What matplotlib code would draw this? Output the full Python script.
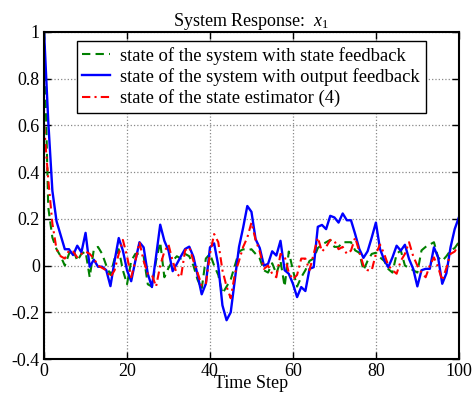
import matplotlib
matplotlib.use("Agg")
import matplotlib.pyplot as plt
import numpy as np

plt.rcParams['font.family'] = ['Liberation Serif', 'DejaVu Serif']
plt.rcParams['mathtext.fontset'] = 'custom'
plt.rcParams['mathtext.rm'] = 'Liberation Serif'
plt.rcParams['mathtext.it'] = 'Liberation Serif:italic'

steps = np.arange(0, 101)

# state of the system with state feedback
x_state_fb = [1.0, 0.25, 0.12, 0.07, 0.04, 0.0, 0.05, 0.07, 0.02, 0.05,
              0.06, -0.05, 0.07, 0.08, 0.05, 0.0, -0.04, 0.03, 0.07, -0.02,
              -0.08, 0.02, 0.05, 0.05, 0.04, -0.08, -0.09, 0.02, 0.1, -0.05,
              -0.01, 0.02, 0.04, 0.03, 0.05, 0.04, 0.0, -0.06, -0.1, 0.03,
              0.05, 0.0, -0.04, -0.12, -0.09, -0.06, 0.0, 0.06, 0.07, 0.065,
              0.07, 0.05, 0.03, -0.02, -0.03, 0.01, -0.035, 0.02, -0.09, 0.06,
              -0.02, -0.09, -0.05, -0.02, 0.02, 0.03, 0.075, 0.09, 0.1, 0.11,
              0.08, 0.08, 0.1, 0.1, 0.1, 0.065, 0.055, -0.02, 0.02, 0.05,
              0.055, 0.035, 0.02, -0.015, -0.03, 0.05, 0.065, 0.0, -0.01, -0.02,
              -0.03, 0.065, 0.08, 0.09, 0.1, 0.035, 0.02, 0.04, 0.065, 0.075,
              0.1]

# state of the system with output feedback
x_output_fb = [1.0, 0.62, 0.32, 0.19, 0.13, 0.07, 0.07, 0.045, 0.085, 0.057,
               0.14, -0.005, 0.025, -0.005, -0.005, -0.02, -0.088, 0.02, 0.118, 0.064,
               -0.02, -0.067, 0.02, 0.10, 0.078, -0.035, -0.092, 0.04, 0.175, 0.106,
               0.064, -0.024, 0.007, 0.04, 0.071, 0.081, 0.038, -0.04, -0.123, -0.078,
               0.078, 0.095, 0.0, -0.17, -0.234, -0.2, -0.06, 0.08, 0.163, 0.255,
               0.23, 0.113, 0.075, 0.0, 0.007, 0.061, 0.043, 0.106, -0.02, -0.035,
               -0.078, -0.135, -0.092, -0.109, -0.014, -0.007, 0.166, 0.174, 0.156, 0.213,
               0.206, 0.184, 0.223, 0.194, 0.194, 0.135, 0.071, 0.033, 0.061, 0.12,
               0.184, 0.071, 0.024, -0.007, 0.035, 0.085, 0.064, 0.089, 0.028, -0.014,
               -0.089, -0.02, -0.014, -0.014, 0.078, 0.035, -0.078, -0.033, 0.078, 0.156,
               0.206]

# state of the state estimator (4)
x_estimator = [0.6, 0.37, 0.18, 0.07, 0.04, 0.03, 0.064, 0.06, 0.035, 0.05,
               0.06, 0.05, 0.03, 0.0, -0.01, -0.02, -0.05, -0.02, 0.05, 0.11,
               0.04, -0.05, 0.02, 0.1, 0.02, -0.035, -0.04, -0.09, 0.0, 0.06,
               0.09, 0.02, -0.035, -0.05, 0.065, 0.078, 0.02, -0.03, -0.085, -0.08,
               0.05, 0.135, 0.1, -0.02, -0.09, -0.14, -0.035, 0.02, 0.08, 0.12,
               0.184, 0.11, 0.06, -0.014, 0.0, -0.035, -0.05, 0.05, 0.04, -0.03,
               -0.06, -0.04, 0.03, 0.03, -0.02, 0.05, 0.12, 0.06, 0.08, 0.11,
               0.106, 0.07, 0.08, 0.05, 0.064, 0.12, 0.06, 0.0, -0.02, -0.02,
               0.05, 0.09, 0.05, 0.0, -0.02, -0.035, 0.02, 0.05, 0.1, 0.04,
               0.0, -0.03, -0.05, 0.0, 0.035, -0.007, -0.064, -0.01, 0.05, 0.06,
               0.09]

labels = ["state of the system with state feedback",
          "state of the system with output feedback",
          "state of the state estimator (4)"]

fig = plt.figure(figsize=(4.74, 4.00), dpi=100)
ax = fig.add_axes([0.093, 0.1025, 0.875, 0.8175])

ax.plot(steps, x_state_fb, '--', color='#008000', lw=1.5, dashes=(4, 2.5), label=labels[0])
ax.plot(steps, x_output_fb, '-', color='#0000ff', lw=1.7, label=labels[1])
ax.plot(steps, x_estimator, '-.', color='#ff0000', lw=1.5, dashes=(4, 2, 1, 2), label=labels[2])

ax.set_xlim(0, 100)
ax.set_ylim(-0.4, 1)
ax.set_xticks([0, 20, 40, 60, 80, 100])
ax.set_yticks([-0.4, -0.2, 0, 0.2, 0.4, 0.6, 0.8, 1])
ax.set_yticklabels(['-0.4', '-0.2', '0', '0.2', '0.4', '0.6', '0.8', '1'])
ax.tick_params(direction='in', top=True, right=True, labelsize=13, length=5, width=1, pad=3)
ax.grid(True, linestyle=':', color='#888888', linewidth=0.9)
for s in ax.spines.values():
    s.set_linewidth(1.5)

ax.set_title("System Response:  $x_1$", fontsize=13, pad=4)
ax.set_xlabel("Time Step", fontsize=13, labelpad=-4)

leg = ax.legend(loc='upper center', bbox_to_anchor=(0.499, 0.972), fontsize=13.4,
                fancybox=False, edgecolor='black', framealpha=1, borderpad=0.3,
                labelspacing=0.18, handlelength=1.5, handletextpad=0.55, borderaxespad=0)
leg.get_frame().set_linewidth(1.0)

fig.savefig("out.png", dpi=100)
